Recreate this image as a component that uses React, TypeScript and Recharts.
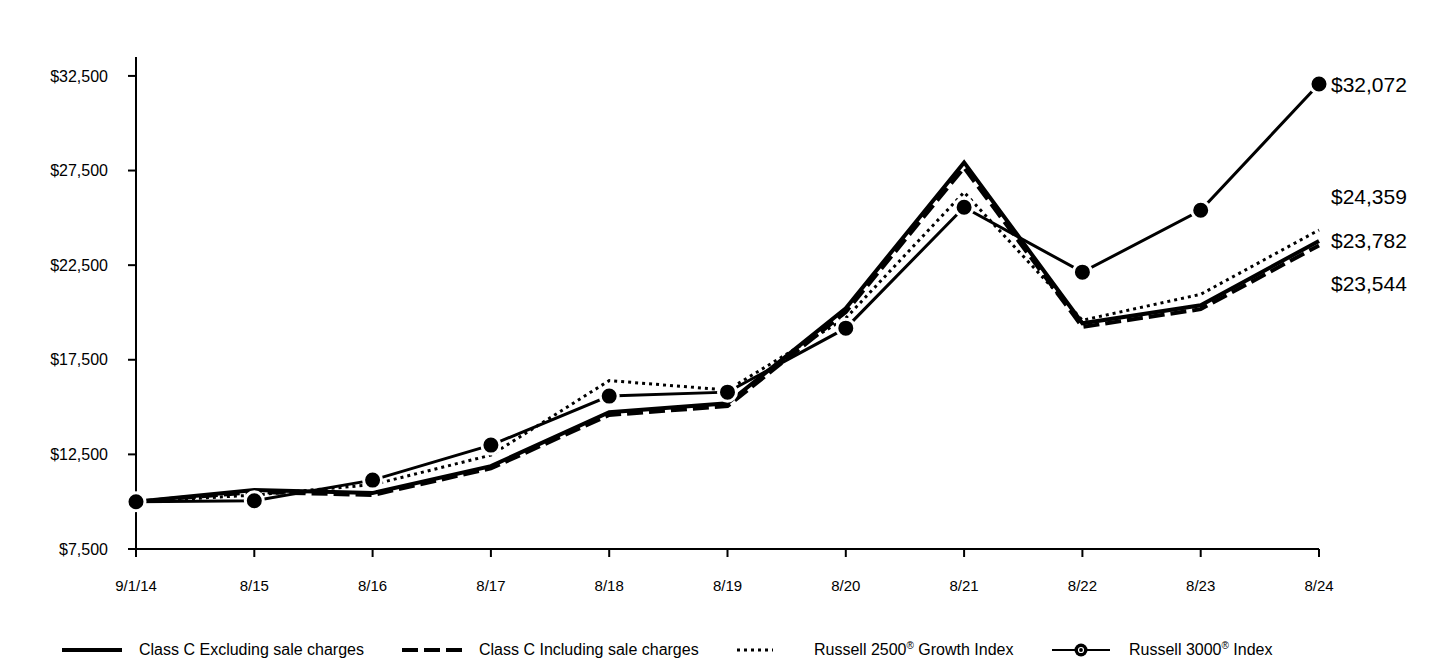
import React from "react"
import { LineChart, Line, XAxis, YAxis, LabelList } from "recharts"

const periods = ["9/1/14", "8/15", "8/16", "8/17", "8/18", "8/19", "8/20", "8/21", "8/22", "8/23", "8/24"]
const classCExcluding = [10000, 10620, 10460, 11880, 14730, 15200, 20225, 27930, 19430, 20380, 23782]
const classCIncluding = [10000, 10514, 10352, 11761, 14583, 15048, 20023, 27651, 19236, 20176, 23544]
const russell2500Growth = [10000, 10350, 10900, 12460, 16400, 15900, 19700, 26350, 19590, 20960, 24359]
const russell3000 = [10000, 10050, 11140, 12990, 15580, 15790, 19170, 25560, 22130, 25400, 32072]
const yTicks = [7500, 12500, 17500, 22500, 27500, 32500]

const chartData = periods.map((p, i) => ({
  period: p,
  excl: classCExcluding[i],
  incl: classCIncluding[i],
  r2500: russell2500Growth[i],
  r3000: russell3000[i],
}))

const FONT = "'Liberation Sans', Arial, sans-serif"
const fmt = (v: number) => `$${v.toLocaleString("en-US")}`

// draws the value only at the last point, shifted so labels don't overlap
const endLabel = (dy: number) => (props: any) => {
  const { x, y, index, value } = props
  if (index !== periods.length - 1) return null
  return (
    <text x={x + 12} y={y + dy} dominantBaseline="central" fontSize={21} fontFamily={FONT} fill="#000">
      {fmt(value)}
    </text>
  )
}

function LegendItem({ sample, label, width }: { sample: React.ReactNode; label: React.ReactNode; width: number }) {
  return (
    <div style={{ display: "flex", alignItems: "center", width, height: 20 }}>
      <svg width={60} height={14} style={{ marginRight: 17, flex: "none" }}>
        {sample}
      </svg>
      <span style={{ whiteSpace: "nowrap", lineHeight: "20px" }}>{label}</span>
    </div>
  )
}

export default function App() {
  return (
    <div style={{ position: "relative", width: 1440, height: 660, background: "#fff", fontFamily: FONT }}>
      <style>{"html,body{margin:0;padding:0;overflow:hidden}"}</style>
      <LineChart width={1440} height={660} data={chartData} margin={{ top: 57, right: 121, left: 0, bottom: 51 }}>
        <XAxis
          dataKey="period"
          axisLine={{ stroke: "#000", strokeWidth: 2 }}
          tickLine={{ stroke: "#000", strokeWidth: 2 }}
          tickSize={8}
          tickMargin={23}
          height={60}
          interval={0}
          tick={{ fill: "#000", fontSize: 15, fontFamily: FONT }}
        />
        <YAxis
          domain={[7500, 33500]}
          ticks={yTicks}
          width={136}
          axisLine={{ stroke: "#000", strokeWidth: 2 }}
          tickLine={{ stroke: "#000", strokeWidth: 2 }}
          tickSize={8}
          tickMargin={20}
          tickFormatter={fmt}
          tick={{ fill: "#000", fontSize: 16, fontFamily: FONT }}
        />
        <Line dataKey="r2500" stroke="#000" strokeWidth={3} strokeDasharray="3 4" dot={false} isAnimationActive={false}>
          <LabelList dataKey="r2500" content={endLabel(-33)} />
        </Line>
        <Line dataKey="incl" stroke="#000" strokeWidth={4} strokeDasharray="16 6" dot={false} isAnimationActive={false}>
          <LabelList dataKey="incl" content={endLabel(38)} />
        </Line>
        <Line dataKey="excl" stroke="#000" strokeWidth={4} dot={false} isAnimationActive={false}>
          <LabelList dataKey="excl" content={endLabel(0)} />
        </Line>
        <Line
          dataKey="r3000"
          stroke="#000"
          strokeWidth={3}
          dot={{ r: 9, fill: "#000", stroke: "#fff", strokeWidth: 3 }}
          isAnimationActive={false}
        >
          <LabelList dataKey="r3000" content={endLabel(0)} />
        </Line>
      </LineChart>
      <div style={{ position: "absolute", left: 62, top: 640, display: "flex", fontSize: 16, color: "#000" }}>
        <LegendItem width={340} sample={<line x1={0} x2={60} y1={7} y2={7} stroke="#000" strokeWidth={4} />} label="Class C Excluding sale charges" />
        <LegendItem width={335} sample={<line x1={0} x2={60} y1={7} y2={7} stroke="#000" strokeWidth={4} strokeDasharray="16 6" />} label="Class C Including sale charges" />
        <LegendItem
          width={315}
          sample={<line x1={0} x2={36} y1={7} y2={7} stroke="#000" strokeWidth={3} strokeDasharray="3 4" />}
          label={<>Russell 2500<sup style={{ fontSize: 10, lineHeight: 0 }}>®</sup> Growth Index</>}
        />
        <LegendItem
          width={260}
          sample={
            <>
              <line x1={0} x2={58} y1={7} y2={7} stroke="#000" strokeWidth={2} />
              <circle cx={29} cy={7} r={6.5} fill="#000" />
              <circle cx={29} cy={7} r={2.5} fill="none" stroke="#fff" strokeWidth={1.2} />
            </>
          }
          label={<>Russell 3000<sup style={{ fontSize: 10, lineHeight: 0 }}>®</sup> Index</>}
        />
      </div>
    </div>
  )
}
